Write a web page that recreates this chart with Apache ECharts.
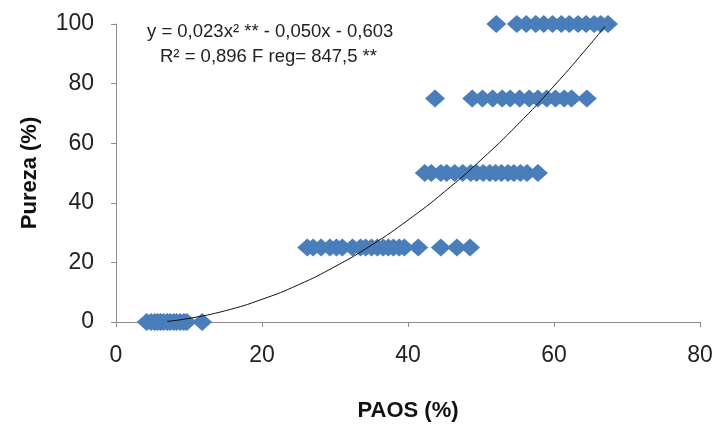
<!DOCTYPE html>
<html>
<head>
<meta charset="utf-8">
<script src="https://cdn.jsdelivr.net/npm/echarts@6/dist/echarts.min.js"></script>
<style>
  html, body { margin: 0; padding: 0; background: #fff; }
  #chart { width: 712px; height: 429px; }
</style>
</head>
<body>
<div id="chart"></div>
<script>
// PAOS (%) values at each purity level
const paos0 = [4.2, 4.8, 5.3, 5.7, 6.1, 6.5, 7.0, 7.4, 7.9, 8.3, 8.8, 9.3, 9.7, 11.8];
const paos25 = [26.2, 27.0, 28.1, 29.3, 30.2, 31.0, 32.4, 33.5, 34.2, 35.0, 35.8, 36.6, 37.3, 38.0, 38.8, 39.5, 41.4, 44.5, 46.7, 48.5];
const paos50 = [42.3, 43.2, 44.5, 45.3, 46.4, 47.5, 48.6, 49.4, 50.3, 51.2, 52.0, 52.8, 53.7, 54.5, 55.4, 56.3, 57.8];
const paos75 = [43.7, 48.8, 50.2, 51.6, 52.9, 54.0, 55.3, 56.6, 57.8, 59.0, 60.2, 61.4, 62.4, 64.5];
const paos100 = [52.1, 54.9, 56.2, 57.5, 58.6, 59.8, 61.0, 62.1, 63.3, 64.4, 65.5, 66.4, 67.4];
const purezaLevels = [0, 25, 50, 75, 100];

// trend curve (y = 0,023x² - 0,050x - 0,603)
const trendX = [7, 10, 15, 20, 25, 30, 35, 40, 45, 50, 55, 60, 65, 67];
const trendY = [0.2, 1.2, 3.8, 7.6, 12.5, 18.6, 25.8, 34.2, 43.7, 54.4, 66.2, 79.2, 93.3, 99.3];

const xTicks = [0, 20, 40, 60, 80];
const yTicks = [0, 20, 40, 60, 80, 100];

// montar pontos
let scatterData = [];
[paos0, paos25, paos50, paos75, paos100].forEach((row, i) => {
  row.forEach(x => scatterData.push([x, purezaLevels[i]]));
});
let trendData = trendX.map((x, i) => [x, trendY[i]]);

const chart = echarts.init(document.getElementById("chart"));
const labelFont = { fontFamily: "Liberation Sans, Arial", fontSize: 23, color: "#222" };
const nameFont = { fontFamily: "Liberation Sans, Arial", fontSize: 22, fontWeight: "bold", color: "#111" };

chart.setOption({
  animation: false,
  grid: { left: 116, right: 12, top: 24, bottom: 107, outerBoundsMode: "none", containLabel: false },
  xAxis: {
    type: "value",
    min: xTicks[0],
    max: xTicks[xTicks.length - 1],
    interval: 20,
    splitLine: { show: false },
    axisLine: { lineStyle: { color: "#8c8c8c" } },
    axisTick: { show: true, length: 5, lineStyle: { color: "#8c8c8c" } },
    axisLabel: Object.assign({ margin: 22 }, labelFont),
    name: "PAOS (%)",
    nameLocation: "middle",
    nameGap: 78,
    nameTextStyle: nameFont
  },
  yAxis: {
    type: "value",
    min: yTicks[0],
    max: yTicks[yTicks.length - 1],
    interval: 20,
    splitLine: { show: false },
    axisLine: { show: true, lineStyle: { color: "#8c8c8c" } },
    axisTick: { show: true, length: 5, lineStyle: { color: "#8c8c8c" } },
    axisLabel: Object.assign({ margin: 22 }, labelFont),
    name: "Pureza (%)",
    nameLocation: "middle",
    nameGap: 75,
    nameTextStyle: nameFont
  },
  series: [
    {
      type: "scatter",
      data: scatterData,
      symbol: "diamond",
      symbolSize: [20, 18],
      itemStyle: { color: "#4a7ebb", opacity: 1 },
      z: 2
    },
    {
      type: "line",
      data: trendData,
      smooth: true,
      showSymbol: false,
      lineStyle: { color: "#111", width: 1 },
      z: 3
    }
  ],
  graphic: [
    {
      type: "text",
      left: 147,
      top: 22,
      style: { text: "y = 0,023x² ** - 0,050x - 0,603", font: "18.5px Liberation Sans, Arial", fill: "#222" }
    },
    {
      type: "text",
      left: 160,
      top: 47,
      style: { text: "R² = 0,896 F reg= 847,5 **", font: "18.5px Liberation Sans, Arial", fill: "#222" }
    }
  ]
});
</script>
</body>
</html>
